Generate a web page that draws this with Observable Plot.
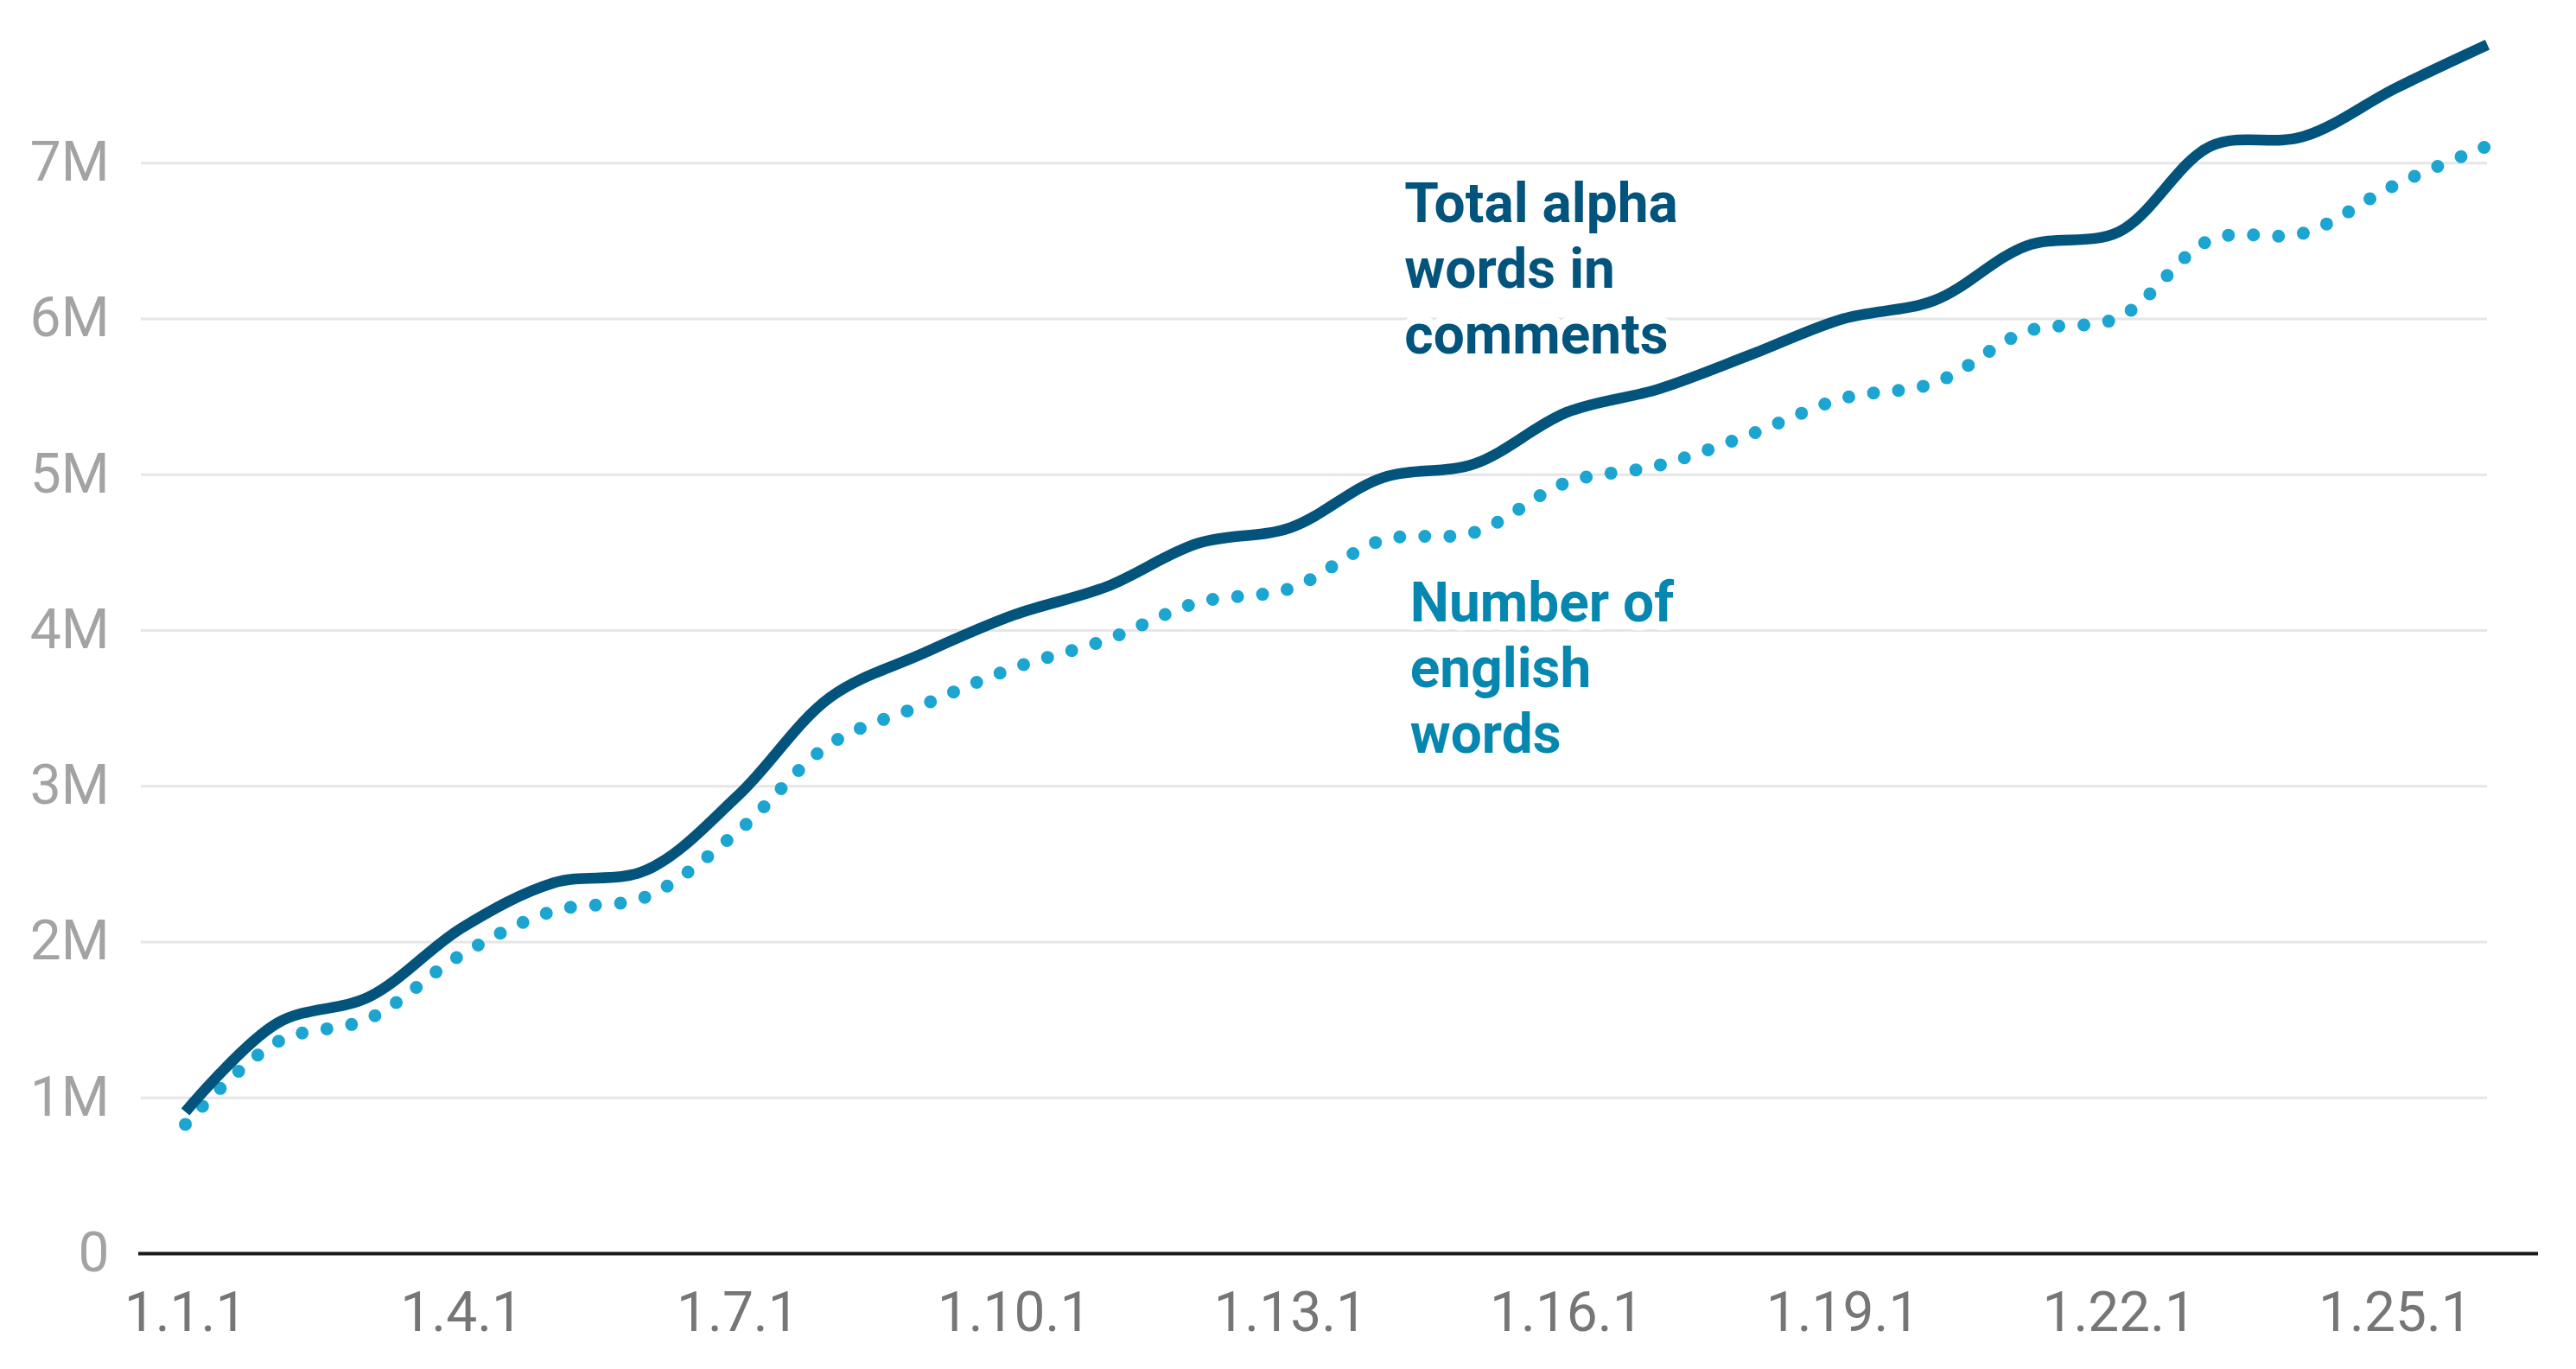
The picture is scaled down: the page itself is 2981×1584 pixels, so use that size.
<!DOCTYPE html>
<html>
<head>
<meta charset="utf-8">
<script src="https://cdn.jsdelivr.net/npm/d3@7"></script>
<script src="https://cdn.jsdelivr.net/npm/@observablehq/plot@0.6"></script>
<style>
  html, body { margin: 0; padding: 0; background: #ffffff; }
  #chart { width: 2981px; height: 1584px; }
</style>
</head>
<body>
<div id="chart"></div>
<script>
// Versions on the x axis (one per release)
const versions = ["1.1.1","1.2.1","1.3.1","1.4.1","1.5.1","1.6.1","1.7.1","1.8.1","1.9.1",
  "1.10.1","1.11.1","1.12.1","1.13.1","1.14.1","1.15.1","1.16.1","1.17.1","1.18.1","1.19.1",
  "1.20.1","1.21.1","1.22.1","1.23.1","1.24.1","1.25.1","1.26.1"];

// Total alpha words in comments (millions)
const totalAlphaWords = [0.91,1.48,1.65,2.09,2.38,2.46,2.94,3.57,3.85,4.10,4.28,4.56,4.66,
  4.98,5.07,5.40,5.55,5.77,6.00,6.12,6.47,6.56,7.11,7.17,7.48,7.76];

// Number of english words (millions)
const englishWords = [0.83,1.36,1.51,1.92,2.20,2.29,2.71,3.27,3.52,3.76,3.94,4.18,4.27,
  4.58,4.63,4.95,5.06,5.26,5.49,5.59,5.92,6.01,6.51,6.55,6.86,7.11];

const xTickIndexes = [0,3,6,9,12,15,18,21,24];
const yTicks = [0,1e6,2e6,3e6,4e6,5e6,6e6,7e6];

const labelTotal = "Total alpha\nwords in\ncomments";
const labelEnglish = "Number of\nenglish\nwords";

const rows = [];
versions.forEach((v, i) => {
  rows.push({i, version: v, series: "total", value: totalAlphaWords[i] * 1e6});
  rows.push({i, version: v, series: "english", value: englishWords[i] * 1e6});
});
const totalRows = rows.filter(d => d.series === "total");
const englishRows = rows.filter(d => d.series === "english");

const dark = "#02547c";
const dotBlue = "#1ba5d0";
const labelBlue = "#0687b0";

const chart = Plot.plot({
  width: 2981,
  height: 1584,
  marginLeft: 160,
  marginRight: 44,
  marginTop: 8,
  marginBottom: 134,
  style: {fontFamily: "Roboto, 'Noto Sans', sans-serif", background: "#ffffff"},
  x: {type: "linear", domain: [-0.507, 25.554]},
  y: {domain: [0, 8e6]},
  marks: [
    Plot.ruleY(yTicks.filter(d => d > 0), {x1: -0.48, x2: versions.length - 1, stroke: "#e6e6e6", strokeWidth: 3}),
    Plot.text([labelTotal], {x: 13.24, y: 6.335e6, text: d => d, textAnchor: "start", lineAnchor: "middle",
      fill: dark, fontSize: 64, fontWeight: 700, lineHeight: 1.19,
      stroke: "white", strokeWidth: 20, paintOrder: "stroke"}),
    Plot.text([labelEnglish], {x: 13.30, y: 3.77e6, text: d => d, textAnchor: "start", lineAnchor: "middle",
      fill: labelBlue, fontSize: 64, fontWeight: 700, lineHeight: 1.19,
      stroke: "white", strokeWidth: 20, paintOrder: "stroke"}),
    Plot.lineY(englishRows, {x: "i", y: "value", curve: "catmull-rom", stroke: dotBlue, strokeWidth: 15,
      strokeLinecap: "round", strokeDasharray: "0 29"}),
    Plot.lineY(totalRows, {x: "i", y: "value", curve: "catmull-rom", stroke: dark, strokeWidth: 12.5,
      strokeLinecap: "butt", strokeLinejoin: "round"}),
    Plot.ruleY([0], {stroke: "#1a1a1a", strokeWidth: 4}),
    Plot.axisY({ticks: yTicks, tickSize: 0, tickPadding: 34, label: null, fontSize: 64, color: "#a3a3a3",
      tickFormat: d => d === 0 ? "0" : (d / 1e6) + "M"}),
    Plot.axisX({ticks: xTickIndexes, tickSize: 0, tickPadding: 44, label: null, fontSize: 64, color: "#767676",
      tickFormat: i => versions[i]})
  ]
});
document.getElementById("chart").appendChild(chart);
</script>
</body>
</html>
